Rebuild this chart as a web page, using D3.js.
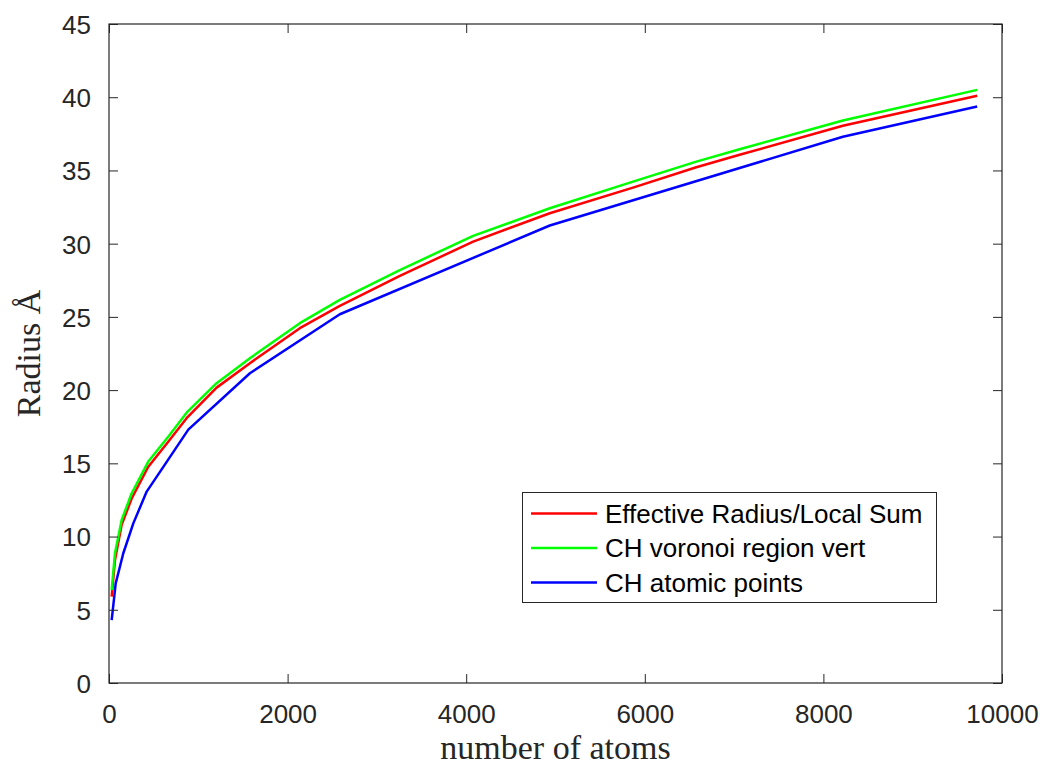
<!DOCTYPE html>
<html><head><meta charset="utf-8">
<script src="https://cdn.jsdelivr.net/npm/d3@7"></script>
<style>body{margin:0;background:#fff}</style>
</head><body>
<svg id="c" width="1040" height="765"></svg>
<script>
// Data
const redX   = [30, 67, 142, 254, 440, 663, 869, 1205, 1578, 2137, 2585, 3257, 4078, 4936, 5868, 6577, 7062, 8218, 9722];
const redY   = [5.9, 8.4, 10.8, 12.6, 14.77, 16.48, 18.08, 20.17, 21.84, 24.23, 25.75, 27.8, 30.14, 32.08, 33.83, 35.22, 36.07, 38.05, 40.1];
const greenX = [30, 67, 142, 254, 440, 663, 869, 1205, 1578, 2137, 2585, 3257, 4078, 4936, 5868, 6577, 7062, 8218, 9722];
const greenY = [6.35, 8.86, 11.13, 12.96, 15.12, 16.82, 18.46, 20.47, 22.18, 24.57, 26.16, 28.2, 30.53, 32.42, 34.24, 35.6, 36.45, 38.41, 40.5];
const blueX  = [30, 75, 160, 272, 422, 646, 888, 1578, 2585, 4936, 8218, 9722];
const blueY  = [4.3, 6.8, 8.86, 10.9, 13.07, 15.1, 17.3, 21.15, 25.18, 31.24, 37.3, 39.37];
const seriesNames = ["Effective Radius/Local Sum", "CH voronoi region vert", "CH atomic points"];
const seriesColors = ["#ff0000", "#00ff00", "#0000ff"];
const xTicks = [0, 2000, 4000, 6000, 8000, 10000];
const yTicks = [0, 5, 10, 15, 20, 25, 30, 35, 40, 45];
const xLabel = "number of atoms";
const yLabel = "Radius Å";

const L = 109, R = 1002, T = 24, B = 683;
const svg = d3.select("#c");
const x = d3.scaleLinear().domain([0, 10000]).range([L, R]);
const y = d3.scaleLinear().domain([0, 45]).range([B, T]);
const axisColor = "#262626";
const tickFont = "'Liberation Sans', Arial, Helvetica, sans-serif";
const serifFont = "'Liberation Serif', 'Times New Roman', serif";
const tl = 9;

const series = [
  {xs: redX, ys: redY},
  {xs: greenX, ys: greenY},
  {xs: blueX, ys: blueY}
];
const line = d3.line().x(d => x(d[0])).y(d => y(d[1]));
series.forEach((s, i) => {
  svg.append("path")
    .datum(s.xs.map((v, j) => [v, s.ys[j]]))
    .attr("d", line)
    .attr("fill", "none")
    .attr("stroke", seriesColors[i])
    .attr("stroke-width", 2.5)
    .attr("stroke-linejoin", "round");
});

// Axes (MATLAB style box with inward ticks)
function styleAxis(g) {
  g.select(".domain").remove();
  g.selectAll(".tick line").attr("stroke", axisColor).attr("stroke-width", 1);
  g.selectAll(".tick text").attr("fill", axisColor).style("font-family", tickFont).style("font-size", "26px");
}
const xb = svg.append("g").attr("transform", `translate(0,${B})`)
  .call(d3.axisBottom(x).tickValues(xTicks).tickFormat(d3.format("d")).tickSizeInner(-tl).tickSizeOuter(0).tickPadding(0));
styleAxis(xb);
xb.selectAll(".tick text").attr("y", 40).attr("dy", 0);
const xt = svg.append("g").attr("transform", `translate(0,${T})`)
  .call(d3.axisTop(x).tickValues(xTicks).tickFormat("").tickSizeInner(-tl).tickSizeOuter(0));
styleAxis(xt);
const yl = svg.append("g").attr("transform", `translate(${L},0)`)
  .call(d3.axisLeft(y).tickValues(yTicks).tickFormat(d3.format("d")).tickSizeInner(-tl).tickSizeOuter(0));
styleAxis(yl);
yl.selectAll(".tick text").attr("x", -18).attr("dy", "0.36em");
const yr = svg.append("g").attr("transform", `translate(${R},0)`)
  .call(d3.axisRight(y).tickValues(yTicks).tickFormat("").tickSizeInner(-tl).tickSizeOuter(0));
styleAxis(yr);

svg.append("rect").attr("x", L).attr("y", T).attr("width", R - L).attr("height", B - T)
  .attr("fill", "none").attr("stroke", axisColor).attr("stroke-width", 1.2);

// Axis labels
svg.append("text").attr("x", (L + R) / 2).attr("y", 759).attr("text-anchor", "middle")
  .style("font-family", serifFont).style("font-size", "34px")
  .attr("fill", axisColor).text(xLabel);
svg.append("text").attr("transform", `translate(40,${(T + B) / 2}) rotate(-90)`).attr("text-anchor", "middle")
  .style("font-family", serifFont).style("font-size", "34px")
  .attr("fill", axisColor).text(yLabel);

// Legend
const lg = svg.append("g");
lg.append("rect").attr("x", 522.5).attr("y", 492.5).attr("width", 414).attr("height", 110)
  .attr("fill", "#fff").attr("stroke", axisColor).attr("stroke-width", 1);
const rowY = [513.5, 548, 582.5];
seriesNames.forEach((n, i) => {
  lg.append("line").attr("x1", 531).attr("x2", 597).attr("y1", rowY[i]).attr("y2", rowY[i])
    .attr("stroke", seriesColors[i]).attr("stroke-width", 2.5);
  lg.append("text").attr("x", 605).attr("y", rowY[i]).attr("dy", "0.36em")
    .style("font-family", tickFont).style("font-size", "26px").attr("fill", "#000").text(n);
});
</script>
</body></html>
